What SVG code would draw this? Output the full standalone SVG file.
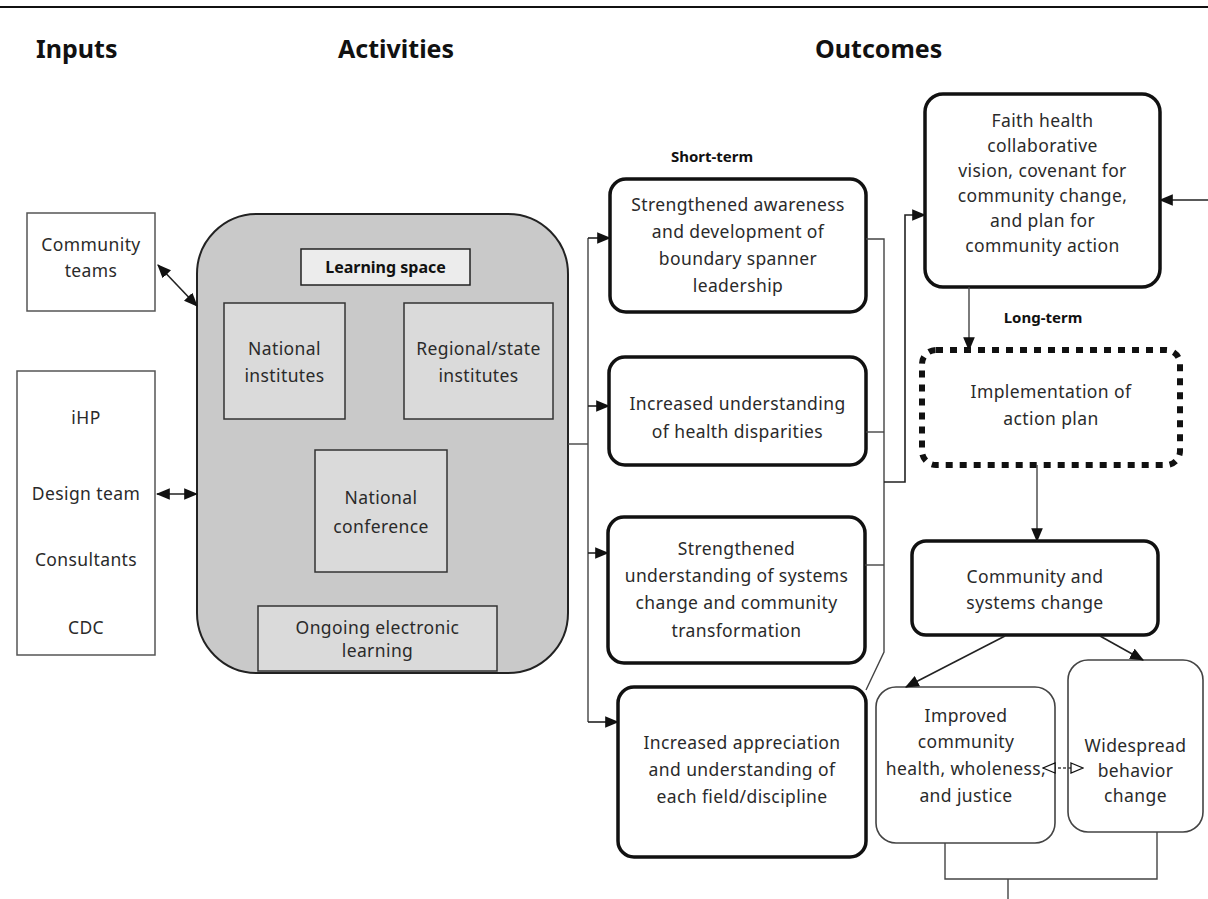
<svg xmlns="http://www.w3.org/2000/svg" width="1208" height="899" viewBox="0 0 1208 899">
  <defs>
    <style>
      .hdr { font-family: "Noto Sans", "Liberation Sans", sans-serif; font-weight: bold; font-size: 25px; fill: #111; }
      .sub { font-family: "Noto Sans", "Liberation Sans", sans-serif; font-weight: bold; font-size: 15px; fill: #111; text-anchor: middle; }
      .t { font-family: "Noto Sans", "Liberation Sans", sans-serif; font-size: 17.5px; letter-spacing: 0.4px; fill: #2a2a2a; text-anchor: middle; }
      .thin { fill: #fff; stroke: #555; stroke-width: 1.5; }
      .grey { fill: #dadada; stroke: #333; stroke-width: 1.5; }
      .bold { fill: #fff; stroke: #111; stroke-width: 3.5; }
      .soft { fill: #fff; stroke: #444; stroke-width: 1.6; }
      .dots { fill: #fff; stroke: #111; stroke-width: 6; stroke-dasharray: 7 7; }
      .ln { fill: none; stroke: #444; stroke-width: 1.4; }
      .arr { fill: none; stroke: #222; stroke-width: 1.6; }
    </style>
    <marker id="ah" viewBox="0 0 12 10" refX="11" refY="5" markerWidth="14" markerHeight="12" markerUnits="userSpaceOnUse" orient="auto-start-reverse">
      <path d="M0,0 L12,5 L0,10 Z" fill="#111"/>
    </marker>
    <marker id="ho" viewBox="0 0 14 12" refX="13" refY="6" markerWidth="14" markerHeight="12" markerUnits="userSpaceOnUse" orient="auto-start-reverse">
      <path d="M1,1 L13,6 L1,11 Z" fill="#fff" stroke="#111" stroke-width="1.3"/>
    </marker>
  </defs>

  <rect width="1208" height="899" fill="#fff"/>
  <line x1="0" y1="7" x2="1208" y2="7" stroke="#111" stroke-width="2"/>

  <!-- column headers -->
  <text class="hdr" x="36" y="58">Inputs</text>
  <text class="hdr" x="338" y="58">Activities</text>
  <text class="hdr" x="815" y="58">Outcomes</text>
  <text class="sub" x="712" y="162">Short-term</text>
  <text class="sub" x="1043" y="323">Long-term</text>

  <!-- inputs -->
  <g id="community-teams">
    <rect class="thin" x="27" y="213" width="128" height="98"/>
    <text class="t" x="91" y="251">Community</text>
    <text class="t" x="91" y="277">teams</text>
  </g>
  <g id="partners">
    <rect class="thin" x="17" y="371" width="138" height="284"/>
    <text class="t" x="86" y="424">iHP</text>
    <text class="t" x="86" y="500">Design team</text>
    <text class="t" x="86" y="566">Consultants</text>
    <text class="t" x="86" y="634">CDC</text>
  </g>

  <!-- activities -->
  <g id="learning-space">
    <rect x="197" y="214" width="371" height="459" rx="60" fill="#c9c9c9" stroke="#222" stroke-width="2"/>
    <rect x="301" y="249" width="169" height="36" fill="#ececec" stroke="#222" stroke-width="1.5"/>
    <text class="sub" x="385.5" y="273" style="font-size:16px">Learning space</text>
  </g>
  <g id="national-institutes">
    <rect class="grey" x="224" y="303" width="121" height="116"/>
    <text class="t" x="284.5" y="355">National</text>
    <text class="t" x="284.5" y="382">institutes</text>
  </g>
  <g id="regional-institutes">
    <rect class="grey" x="404" y="303" width="149" height="116"/>
    <text class="t" x="478.5" y="355">Regional/state</text>
    <text class="t" x="478.5" y="382">institutes</text>
  </g>
  <g id="national-conference">
    <rect class="grey" x="315" y="450" width="132" height="122"/>
    <text class="t" x="381" y="504">National</text>
    <text class="t" x="381" y="533">conference</text>
  </g>
  <g id="e-learning">
    <rect class="grey" x="258" y="606" width="239" height="65"/>
    <text class="t" x="377.5" y="634">Ongoing electronic</text>
    <text class="t" x="377.5" y="657">learning</text>
  </g>

  <!-- short-term outcomes -->
  <g id="st-leadership">
    <rect class="bold" x="610" y="179" width="256" height="133" rx="16"/>
    <text class="t" x="738" y="211">Strengthened awareness</text>
    <text class="t" x="738" y="238">and development of</text>
    <text class="t" x="738" y="265">boundary spanner</text>
    <text class="t" x="738" y="292">leadership</text>
  </g>
  <g id="st-disparities">
    <rect class="bold" x="609" y="357" width="257" height="108" rx="16"/>
    <text class="t" x="737.5" y="410">Increased understanding</text>
    <text class="t" x="737.5" y="438">of health disparities</text>
  </g>
  <g id="st-systems">
    <rect class="bold" x="608" y="517" width="257" height="146" rx="16"/>
    <text class="t" x="736.5" y="555">Strengthened</text>
    <text class="t" x="736.5" y="582">understanding of systems</text>
    <text class="t" x="736.5" y="609">change and community</text>
    <text class="t" x="736.5" y="637">transformation</text>
  </g>
  <g id="st-disciplines">
    <rect class="bold" x="618" y="687" width="248" height="170" rx="16"/>
    <text class="t" x="742" y="749">Increased appreciation</text>
    <text class="t" x="742" y="776">and understanding of</text>
    <text class="t" x="742" y="803">each field/discipline</text>
  </g>

  <!-- intermediate and long-term outcomes -->
  <g id="faith-health-vision">
    <rect class="bold" x="925" y="94" width="235" height="193" rx="18"/>
    <text class="t" x="1042.5" y="127">Faith health</text>
    <text class="t" x="1042.5" y="152">collaborative</text>
    <text class="t" x="1042.5" y="177">vision, covenant for</text>
    <text class="t" x="1042.5" y="202">community change,</text>
    <text class="t" x="1042.5" y="227">and plan for</text>
    <text class="t" x="1042.5" y="252">community action</text>
  </g>
  <g id="implementation">
    <rect class="dots" x="922" y="350" width="258" height="115" rx="14"/>
    <text class="t" x="1051" y="398">Implementation of</text>
    <text class="t" x="1051" y="425">action plan</text>
  </g>
  <g id="systems-change">
    <rect class="bold" x="912" y="541" width="246" height="94" rx="14"/>
    <text class="t" x="1035" y="583">Community and</text>
    <text class="t" x="1035" y="609">systems change</text>
  </g>
  <g id="community-health">
    <rect class="soft" x="876" y="687" width="179" height="156" rx="20"/>
    <text class="t" x="966" y="722">Improved</text>
    <text class="t" x="966" y="748">community</text>
    <text class="t" x="966" y="775">health, wholeness,</text>
    <text class="t" x="966" y="802">and justice</text>
  </g>
  <g id="behavior-change">
    <rect class="soft" x="1068" y="660" width="135" height="172" rx="20"/>
    <text class="t" x="1135.5" y="752">Widespread</text>
    <text class="t" x="1135.5" y="777">behavior</text>
    <text class="t" x="1135.5" y="802">change</text>
  </g>

  <!-- connectors -->
  <g id="connectors">
    <line class="arr" x1="158" y1="265" x2="197" y2="306" marker-start="url(#ah)" marker-end="url(#ah)"/>
    <line class="arr" x1="157" y1="494" x2="197" y2="494" marker-start="url(#ah)" marker-end="url(#ah)"/>

    <polyline class="ln" points="568,444 588,444"/>
    <line class="ln" x1="588" y1="238" x2="588" y2="722"/>
    <line class="arr" x1="588" y1="238" x2="610" y2="238" marker-end="url(#ah)"/>
    <line class="arr" x1="588" y1="406" x2="609" y2="406" marker-end="url(#ah)"/>
    <line class="arr" x1="588" y1="553" x2="608" y2="553" marker-end="url(#ah)"/>
    <line class="arr" x1="588" y1="722" x2="618" y2="722" marker-end="url(#ah)"/>

    <polyline class="ln" points="866,239 884,239 884,652 866,690"/>
    <line class="ln" x1="866" y1="432" x2="884" y2="432"/>
    <line class="ln" x1="865" y1="565" x2="884" y2="565"/>
    <polyline class="arr" points="884,482 905,482 905,215 925,215" marker-end="url(#ah)"/>

    <line class="arr" x1="1208" y1="200" x2="1160" y2="200" marker-end="url(#ah)"/>
    <line class="ln" x1="969" y1="287" x2="969" y2="350" marker-end="url(#ah)"/>
    <line class="ln" x1="1037" y1="465" x2="1037" y2="541" marker-end="url(#ah)"/>
    <line class="arr" x1="1005" y1="636" x2="906" y2="687" marker-end="url(#ah)"/>
    <line class="arr" x1="1100" y1="636" x2="1143" y2="660" marker-end="url(#ah)"/>
    <line class="ln" x1="1043" y1="768" x2="1083" y2="768" stroke-dasharray="3 2" marker-start="url(#ho)" marker-end="url(#ho)"/>

    <polyline class="ln" points="945,843 945,879 1157,879 1157,832"/>
    <line class="ln" x1="1008" y1="879" x2="1008" y2="899"/>
  </g>
</svg>
